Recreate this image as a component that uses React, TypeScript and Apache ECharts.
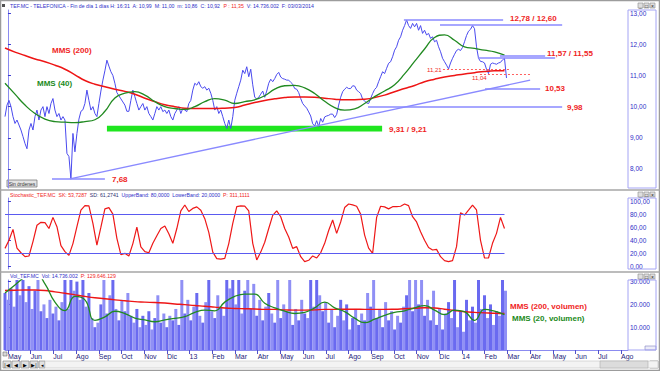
import React, { useEffect, useRef } from 'react';
import * as echarts from 'echarts';

// ---------------- DATA ----------------
// x values are months counted from 1 May 2012 (0 = May 2012, 20 = Jan 2014)
const MONTH_LABELS = ['May', 'Jun', 'Jul', 'Ago', 'Sep', 'Oct', 'Nov', 'Dic', '13', 'Feb', 'Mar', 'Abr', 'May', 'Jun', 'Jul', 'Ago', 'Sep', 'Oct', 'Nov', 'Dic', '14', 'Feb', 'Mar', 'Abr', 'May', 'Jun', 'Jul', 'Ago'];

const FIRST_MONTH = -0.13; // first sample (27 Apr 2012)
const PRICE_STEP = 0.088; // months between close samples
const MA_STEP = 0.44; // months between moving-average samples
const STOCH_STEP = 0.176;
const VOL_STEP = 0.132;

const PRICE_CLOSE = [
  9.68, 10.05, 10.2, 10.0, 9.68, 9.46, 9.57, 9.41, 9.25, 9.04,
  8.82, 8.65, 9.25, 9.46, 9.25, 9.68, 9.89, 9.57, 9.89, 10.0,
  9.68, 10.0, 9.78, 10.1, 10.26, 9.89, 9.68, 9.78, 9.57, 9.68,
  9.57, 8.5, 8.4, 7.68, 9.14, 8.55, 9.14, 9.6, 9.85, 9.9,
  10.1, 10.53, 10.2, 9.89, 10.0, 9.78, 9.68, 10.1, 10.5, 10.85,
  11.15, 11.49, 11.3, 11.12, 11.0, 10.75, 10.45, 10.35, 10.25, 10.15,
  10.05, 9.85, 9.85, 10.2, 10.53, 10.32, 10.1, 9.89, 10.0, 10.1,
  9.89, 10.0, 9.78, 9.68, 9.57, 9.78, 10.0, 9.89, 10.0, 9.84,
  9.89, 9.78, 9.89, 9.68, 9.57, 9.78, 9.89, 10.0, 9.78, 9.94,
  9.89, 9.84, 10.1, 10.2, 10.53, 10.75, 10.69, 10.8, 10.64, 10.59,
  10.64, 10.53, 10.59, 10.43, 10.2, 9.89, 10.0, 9.78, 9.89, 9.68,
  9.46, 9.3, 9.57, 9.3, 9.68, 10.2, 10.43, 10.64, 10.85, 11.17,
  11.06, 11.28, 10.96, 11.2, 10.7, 10.3, 10.25, 10.3, 10.4, 10.5,
  10.3, 10.5, 10.75, 10.88, 10.8, 10.9, 11.03, 11.1, 10.95, 10.9,
  10.88, 10.85, 10.85, 10.78, 10.72, 10.58, 10.56, 10.45, 10.26, 10.1,
  10.02, 9.95, 9.83, 9.7, 9.45, 9.38, 9.55, 9.36, 9.62, 9.5,
  9.67, 9.7, 9.72, 9.76, 9.76, 9.65, 9.75, 10.05, 10.3, 10.48,
  10.56, 10.62, 10.58, 10.58, 10.67, 10.66, 10.53, 10.48, 10.42, 10.24,
  10.18, 10.12, 10.1, 10.26, 10.42, 10.55, 10.62, 10.8, 10.96, 11.12,
  11.06, 11.23, 11.39, 11.44, 11.6, 11.81, 11.92, 12.13, 12.24, 12.45,
  12.6, 12.78, 12.6, 12.51, 12.67, 12.56, 12.67, 12.45, 12.6, 12.35,
  12.45, 12.3, 12.35, 12.19, 12.24, 12.08, 12.13, 11.92, 11.76, 11.55,
  11.44, 11.33, 11.21, 11.4, 11.55, 11.68, 11.8, 11.84, 11.8, 11.9,
  12.08, 12.28, 12.42, 12.48, 12.6, 12.5, 11.92, 11.55, 11.45, 11.44,
  11.4, 11.2, 11.06, 11.36, 11.4, 11.38, 11.36, 11.4, 11.42, 11.5,
  11.55, 10.92,
];

const MMS200 = [
  11.88, 11.75, 11.64, 11.53, 11.44, 11.33, 11.2, 11.02, 10.84, 10.72,
  10.64, 10.56, 10.49, 10.4, 10.27, 10.16, 10.06, 10.0, 9.95, 9.94,
  9.94, 9.94, 9.95, 9.97, 10.05, 10.13, 10.2, 10.25, 10.29, 10.31,
  10.31, 10.3, 10.27, 10.24, 10.22, 10.22, 10.24, 10.29, 10.37, 10.48,
  10.58, 10.68, 10.8, 10.88, 10.95, 11.0, 11.05, 11.09, 11.13, 11.15,
  11.15,
];

const MMS40 = [
  10.75, 10.4, 10.05, 9.78, 9.6, 9.52, 9.5, 9.49, 9.52, 9.58,
  9.85, 10.28, 10.43, 10.48, 10.37, 10.16, 10.0, 9.94, 9.91, 10.0,
  10.16, 10.26, 10.21, 10.1, 10.16, 10.22, 10.35, 10.56, 10.67, 10.68,
  10.6, 10.42, 10.17, 9.97, 9.89, 9.93, 10.1, 10.32, 10.5, 10.7,
  11.05, 11.45, 11.85, 12.22, 12.3, 12.13, 11.92, 11.87, 11.81, 11.76,
  11.65,
];

const STOCH_K = [
  27.7, 40, 56.7, 28, 21, 15, 16, 38, 63, 67.5,
  67, 58, 75, 60.8, 32, 22.7, 17, 35, 60.8, 86,
  93, 92.5, 65.9, 32.8, 60, 88, 90, 80, 43, 18,
  20.1, 16, 35, 60, 30, 22.7, 21, 35.4, 47, 58,
  62, 50, 35.4, 58, 85, 93.9, 84, 88.7, 91, 86,
  73, 52, 22, 12, 11.4, 12.5, 35, 65.9, 91.3, 92.6,
  92.3, 85, 35.4, 10, 22, 37, 58, 78, 85, 76,
  58, 45, 27.7, 30.3, 15, 7.4, 9.5, 16.1, 13, 21,
  35.4, 55, 71, 50.6, 68, 90, 95.4, 94, 92, 80,
  48, 28, 20, 75, 92, 91, 88, 91.3, 91.3, 92,
  95.4, 93, 76, 68, 53, 40, 29, 25.2, 26.2, 15,
  9, 7.5, 9, 30.3, 82, 78.6, 86, 93.9, 86.3, 40,
  13, 13, 35.4, 50.6, 75, 58,
];

// daily volume, thousands of shares
const VOLUME_K = [
  25, 22, 27, 19, 31, 24, 33, 21, 28, 18,
  26, 33, 17, 20, 14, 22, 16, 19, 13, 21,
  33, 18, 33, 26, 30, 22, 33, 19, 25, 14,
  10, 12, 20, 33, 16, 24, 33, 18, 13, 22,
  17, 25, 15, 12, 18, 10, 15, 11, 17, 9,
  14, 24, 12, 16, 10, 15, 13, 18, 11, 33,
  16, 22, 13, 19, 25, 15, 12, 21, 33, 17,
  14, 24, 19, 15, 33, 27, 33, 20, 33, 16,
  26, 33, 18, 29, 15, 22, 13, 19, 25, 16,
  12, 33, 14, 20, 17, 33, 11, 18, 13, 22,
  16, 14, 33, 19, 33, 24, 17, 21, 12, 18,
  10, 15, 22, 13, 20, 9, 14, 18, 11, 16,
  13, 25, 19, 32, 14, 18, 10, 21, 13, 17,
  9, 15, 12, 19, 24, 31, 17, 33, 20, 33,
  15, 22, 13, 26, 11, 18, 9, 16, 21, 14,
  33, 10, 17, 8, 22, 13, 19, 12, 33, 18,
  24, 14, 20, 11, 17, 15, 33, 26,
];

const VOL_MMS200 = [
  26.1, 26.2, 26.3, 26.3, 26.1, 25.5, 24.9, 24.2, 23.5, 22.9,
  22.5, 22.0, 21.6, 21.2, 21.0, 20.8, 20.6, 20.2, 19.9, 19.5,
  19.2, 18.8, 18.4, 18.2, 18.1, 18.0, 17.8, 17.8, 17.6, 17.5,
  17.5, 17.6, 17.8, 17.8, 17.9, 17.9, 17.8, 17.8, 17.8, 17.9,
  18.1, 18.3, 18.5, 18.4, 17.9, 17.3, 16.8, 16.5, 16.3, 16.1,
  16.0,
];

const VOL_MMS20 = [
  25.0, 28.5, 32, 34, 29, 21, 17.3, 23.5, 22, 13,
  14.5, 17, 16, 14, 13.2, 12.4, 13.2, 13.9, 14.6, 16.5,
  17.5, 17.2, 21, 23.5, 24.5, 24.5, 20.5, 18.5, 17, 16,
  16.5, 18.5, 21, 18.5, 16.8, 14, 12, 13.5, 15.2, 16.5,
  17.2, 18.5, 19.5, 17.5, 15.5, 17.5, 16.8, 13, 17.8, 17,
  15.5,
];

const PRICE_TICKS = [8, 9, 10, 11, 12, 13];
const STOCH_TICKS = [0, 20, 40, 60, 80, 100];
const VOL_TICKS = [10, 20, 30];
const STOCH_BANDS = [80, 20];

// drawn support / resistance levels: price, start month, end month
const LEVELS = [
  { price: 12.78, from: 17.44, to: 21.81 },
  { price: 12.62, from: 19.03, to: 24.41 },
  { price: 11.62, from: 21.67, to: 23.66 },
  { price: 11.57, from: 20.7, to: 24.1 },
  { price: 10.58, from: 21.01, to: 23.44 },
  { price: 9.99, from: 15.86, to: 24.41 },
  { price: 7.68, from: 1.94, to: 4.27 },
];
const DOTTED_LEVELS = [
  { price: 11.21, from: 19.16, to: 22.11 },
  { price: 11.04, from: 20.79, to: 23.0 },
];
const TRENDLINE = [[2.73, 7.68], [23.0, 10.85]];
const SUPPORT_BAND = { from: 4.36, to: 16.48, low: 9.2, high: 9.39 };

// ---------------- CHART ----------------
const FONT = '"Liberation Sans", Arial, sans-serif';
const X_MIN = -0.13;
const X_MAX = 27.31;
const RED = '#f01e1e';
const GREEN = '#218a21';
const BLUE_TXT = '#3030c8';
const LEVEL_BLUE = '#8a8aff';

const toXY = (vals: number[], step: number) => vals.map((v, i) => [FIRST_MONTH + i * step, v]);
const comma2 = (v: number) => v.toFixed(2).replace('.', ',');

function buildOption(): any {
  const monthTicks = MONTH_LABELS.map((_, i) => i);
  const xAxes = [0, 1, 2].map((g) => ({
    type: 'value',
    gridIndex: g,
    min: X_MIN,
    max: X_MAX,
    show: g === 2,
    axisLine: { show: true, lineStyle: { color: '#8b8bf0', width: 1 } },
    axisTick: { show: true, customValues: monthTicks, length: 4, lineStyle: { color: '#5050c8' } },
    axisLabel: {
      show: true,
      customValues: monthTicks,
      formatter: (v: number) => MONTH_LABELS[Math.round(v)] ?? '',
      align: 'left',
      margin: 3,
      fontSize: 7,
      color: '#23237a',
      fontFamily: FONT,
    },
    splitLine: { show: false },
  }));

  const yAxis = (g: number, min: number, max: number, ticks: number[], fmt: (v: number) => string) => ({
    type: 'value',
    gridIndex: g,
    position: 'right',
    min,
    max,
    axisLine: { show: true, lineStyle: { color: '#8b8bf0' } },
    axisTick: { show: true, customValues: ticks, length: 3, lineStyle: { color: '#3a3ad0' } },
    axisLabel: { customValues: ticks, formatter: fmt, fontSize: 6.5, color: BLUE_TXT, margin: 2, fontFamily: FONT },
    splitLine: { show: false },
  });

  const lastStoch = FIRST_MONTH + (STOCH_K.length - 1) * STOCH_STEP;

  const levelLines = [
    ...LEVELS.map((l) => [
      { coord: [l.from, l.price], lineStyle: { color: LEVEL_BLUE, width: 1.5, type: 'solid' } },
      { coord: [l.to, l.price] },
    ]),
    ...DOTTED_LEVELS.map((l) => [
      { coord: [l.from, l.price], lineStyle: { color: '#ff6060', width: 1, type: [2, 2] } },
      { coord: [l.to, l.price] },
    ]),
    [
      { coord: TRENDLINE[0], lineStyle: { color: LEVEL_BLUE, width: 1.3, type: 'solid' } },
      { coord: TRENDLINE[1] },
    ],
  ];

  const bigLabel = (text: string, x: number, y: number, color = RED) => ({
    type: 'text',
    x,
    y,
    z: 50,
    style: { text, fill: color, font: `bold 8px ${FONT}`, verticalAlign: 'middle', textVerticalAlign: 'middle' },
  });
  const smallLabel = (text: string, x: number, y: number) => ({
    type: 'text',
    x,
    y,
    z: 50,
    style: { text, fill: RED, font: `6px ${FONT}`, verticalAlign: 'middle', textVerticalAlign: 'middle' },
  });
  const richTitle = (text: string, x: number, y: number) => ({
    type: 'text',
    x,
    y,
    z: 50,
    style: {
      text,
      verticalAlign: 'middle',
      textVerticalAlign: 'middle',
      font: `5.2px ${FONT}`,
      rich: {
        b: { fill: BLUE_TXT, font: `5.2px ${FONT}` },
        r: { fill: RED, font: `5.2px ${FONT}` },
        d: { fill: '#303070', font: `5.2px ${FONT}` },
      },
    },
  });
  const winIcons = (y: number) => [0, 1, 2].map((i) => ({
    type: 'group',
    children: [
      { type: 'rect', shape: { x: 638 + i * 6, y, width: 5, height: 5 }, style: { fill: '#dedede', stroke: '#8a8a8a', lineWidth: 0.6 } },
      { type: 'text', x: 640.5 + i * 6, y: y + 2.5, style: { text: ['_', '□', '×'][i], fill: '#202020', font: `5px ${FONT}`, align: 'center', verticalAlign: 'middle', textAlign: 'center', textVerticalAlign: 'middle' } },
    ],
  }));
  const navBtn = (x: number, w: number, glyph: string) => ({
    type: 'group',
    children: [
      { type: 'rect', shape: { x, y: 361, width: w, height: 7 }, style: { fill: '#e2e2e2', stroke: '#7a7a7a', lineWidth: 0.6 } },
      { type: 'text', x: x + w / 2, y: 364.5, style: { text: glyph, fill: '#000', font: `5px ${FONT}`, align: 'center', verticalAlign: 'middle', textAlign: 'center', textVerticalAlign: 'middle' } },
    ],
  });

  const graphic = [
    { type: 'rect', z: 40, shape: { x: 0.5, y: 0.5, width: 659, height: 370 }, style: { fill: 'none', stroke: '#9c9c9c', lineWidth: 1.5 } },
    { type: 'line', z: 40, shape: { x1: 0, y1: 190, x2: 660, y2: 190 }, style: { stroke: '#a6a6a6', lineWidth: 1.5 } },
    { type: 'line', z: 40, shape: { x1: 0, y1: 272, x2: 660, y2: 272 }, style: { stroke: '#a6a6a6', lineWidth: 1.5 } },
    { type: 'rect', z: 40, shape: { x: 628, y: 10, width: 28, height: 178 }, style: { fill: 'none', stroke: '#a4a4f4', lineWidth: 1 } },
    { type: 'rect', z: 40, shape: { x: 628, y: 198, width: 28, height: 71 }, style: { fill: 'none', stroke: '#a4a4f4', lineWidth: 1 } },
    { type: 'rect', z: 40, shape: { x: 628, y: 280, width: 28, height: 70 }, style: { fill: 'none', stroke: '#a4a4f4', lineWidth: 1 } },
    { type: 'rect', z: 40, shape: { x: 2, y: 4, width: 3, height: 3 }, style: { fill: '#505050' } },
    ...winIcons(3),
    ...winIcons(192),
    ...winIcons(274),
    richTitle('{b|TEF.MC - TELEFONICA - Fin de día 1 días H: 16:31  A: 10,99  M: 11,00  m: 10,86  C: 10,92  }{r|P : 11,35}{b|  V: 14.736.002  F: 03/03/2014}', 10, 6),
    richTitle('{r|Stochastic_TEF.MC  SK: 53,7287  }{d|SD: 61,2741  }{b|UpperBand: 80,0000  LowerBand: 20,0000  }{r|P: 311,1111}', 10, 195),
    richTitle('{b|Vol_TEF.MC  Vol: 14.736.002  }{r|P: 129.646.129}', 10, 276),
    bigLabel('MMS (200)', 52, 50),
    bigLabel('MMS (40)', 37, 83, GREEN),
    bigLabel('12,78 / 12,60', 510, 18),
    bigLabel('11,57 / 11,55', 547, 53),
    bigLabel('10,53', 545, 88),
    bigLabel('9,98', 567, 107),
    bigLabel('9,31 / 9,21', 389, 129),
    bigLabel('7,68', 112, 179),
    bigLabel('MMS (200, volumen)', 510, 306),
    bigLabel('MMS (20, volumen)', 512, 318, GREEN),
    smallLabel('11,21', 427, 70),
    smallLabel('11,04', 472, 78),
    {
      type: 'group',
      children: [
        { type: 'rect', shape: { x: 7, y: 180, width: 30, height: 7 }, style: { fill: '#e4e4e4', stroke: '#6e6e6e', lineWidth: 0.7 } },
        { type: 'text', x: 22, y: 183.5, style: { text: 'Sin órdenes', fill: '#333', font: `5px ${FONT}`, align: 'center', verticalAlign: 'middle', textAlign: 'center', textVerticalAlign: 'middle' } },
      ],
    },
    { type: 'rect', z: 30, shape: { x: 645, y: 346, width: 11, height: 4 }, style: { fill: '#ececf8', stroke: '#8080c0', lineWidth: 0.6 } },
    { type: 'rect', z: 30, shape: { x: 3, y: 352, width: 4, height: 4 }, style: { fill: '#d8d8d8', stroke: '#707070', lineWidth: 0.6 } },
    { type: 'rect', z: 30, shape: { x: 45, y: 361, width: 613, height: 7 }, style: { fill: '#f3f3f3', stroke: '#c4c4c4', lineWidth: 0.6 } },
    { type: 'rect', z: 30, shape: { x: 600, y: 361, width: 48, height: 7 }, style: { fill: '#dcdcdc', stroke: '#b0b0b0', lineWidth: 0.6 } },
    navBtn(3, 8, '|◀'),
    navBtn(12, 8, '◀'),
    navBtn(21, 8, '▶'),
    navBtn(30, 8, '▶|'),
    navBtn(39, 6, '◂'),
    navBtn(650, 8, '▸'),
  ];

  return {
    animation: false,
    backgroundColor: '#ffffff',
    textStyle: { fontFamily: FONT },
    grid: [
      { left: 5, right: 32, top: 10, height: 178 },
      { left: 5, right: 32, top: 198, height: 71 },
      { left: 5, right: 32, top: 280, height: 70 },
    ],
    xAxis: xAxes,
    yAxis: [
      yAxis(0, 7.39, 13.1, PRICE_TICKS, comma2),
      yAxis(1, -3.8, 104.6, STOCH_TICKS, comma2),
      yAxis(2, 0, 30.7, VOL_TICKS, (v: number) => `${v}.000`),
    ],
    graphic,
    series: [
      {
        name: 'levels',
        type: 'line',
        xAxisIndex: 0,
        yAxisIndex: 0,
        data: [],
        z: 1,
        silent: true,
        markArea: {
          silent: true,
          itemStyle: { color: '#1fe61f' },
          data: [[{ coord: [SUPPORT_BAND.from, SUPPORT_BAND.high] }, { coord: [SUPPORT_BAND.to, SUPPORT_BAND.low] }]],
        },
        markLine: { silent: true, symbol: ['none', 'none'], label: { show: false }, data: levelLines },
      },
      {
        name: 'TEF.MC',
        type: 'line',
        xAxisIndex: 0,
        yAxisIndex: 0,
        data: toXY(PRICE_CLOSE, PRICE_STEP),
        symbol: 'none',
        z: 3,
        lineStyle: { color: '#4a4aee', width: 1 },
      },
      {
        name: 'MMS (200)',
        type: 'line',
        xAxisIndex: 0,
        yAxisIndex: 0,
        data: toXY(MMS200, MA_STEP),
        symbol: 'none',
        smooth: true,
        z: 4,
        lineStyle: { color: '#ee1515', width: 1.5 },
      },
      {
        name: 'MMS (40)',
        type: 'line',
        xAxisIndex: 0,
        yAxisIndex: 0,
        data: toXY(MMS40, MA_STEP),
        symbol: 'none',
        smooth: true,
        z: 4,
        lineStyle: { color: GREEN, width: 1.3 },
      },
      {
        name: 'Stochastic',
        type: 'line',
        xAxisIndex: 1,
        yAxisIndex: 1,
        data: toXY(STOCH_K, STOCH_STEP),
        symbol: 'none',
        z: 4,
        lineStyle: { color: '#ee1818', width: 1.2 },
        markLine: {
          silent: true,
          symbol: ['none', 'none'],
          label: { show: false },
          lineStyle: { color: '#5a5af0', width: 1, type: 'solid' },
          data: STOCH_BANDS.map((b) => [{ coord: [FIRST_MONTH, b] }, { coord: [lastStoch, b] }]),
        },
      },
      {
        name: 'Vol',
        type: 'bar',
        xAxisIndex: 2,
        yAxisIndex: 2,
        data: toXY(VOLUME_K, VOL_STEP),
        barWidth: 3,
        clip: true,
        itemStyle: {
          color: (p: any) => (p.dataIndex % 2 === 0 ? '#6a6af0' : '#9090f5'),
        },
      },
      {
        name: 'MMS (200, volumen)',
        type: 'line',
        xAxisIndex: 2,
        yAxisIndex: 2,
        data: toXY(VOL_MMS200, MA_STEP),
        symbol: 'none',
        smooth: true,
        clip: true,
        z: 4,
        lineStyle: { color: '#ee1515', width: 1.4 },
      },
      {
        name: 'MMS (20, volumen)',
        type: 'line',
        xAxisIndex: 2,
        yAxisIndex: 2,
        data: toXY(VOL_MMS20, MA_STEP),
        symbol: 'none',
        smooth: true,
        clip: true,
        z: 4,
        lineStyle: { color: GREEN, width: 1.3 },
      },
    ],
  };
}

export default function App() {
  const ref = useRef<HTMLDivElement>(null);
  useEffect(() => {
    if (!ref.current) return;
    const chart = echarts.init(ref.current, undefined, { renderer: 'svg' });
    chart.setOption(buildOption());
    return () => chart.dispose();
  }, []);
  return (
    <div
      ref={ref}
      style={{ position: 'fixed', left: 0, top: 0, width: 660, height: 371, background: '#ffffff' }}
    />
  );
}
